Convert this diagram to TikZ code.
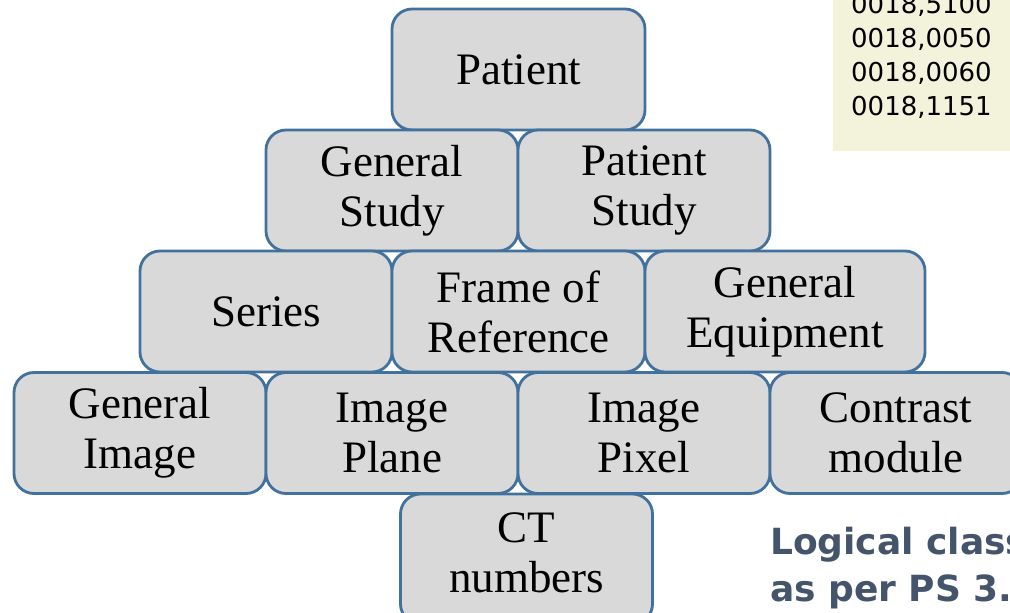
\documentclass[tikz,border=0pt]{standalone}
\usepackage{fontspec}
\setmainfont{Liberation Serif}
\newfontfamily\tagfont{DejaVu Sans}
\newfontfamily\notefont{DejaVu Sans}
\definecolor{boxfill}{HTML}{D9D9D9}
\definecolor{boxline}{HTML}{41719C}
\definecolor{tagfill}{HTML}{F3F3DC}
\definecolor{notecol}{HTML}{44546A}
\begin{document}
\begin{tikzpicture}[x=1pt,y=-1pt,
  mod/.style={draw=boxline, fill=boxfill, line width=2.8pt, rounded corners=20pt,
    align=center, inner sep=0pt, minimum height=121pt,
    font=\fontsize{45}{50}\selectfont, text=black},
  tagtext/.style={anchor=base west, inner sep=0pt, font=\tagfont\fontsize{26}{26}\selectfont, text=black},
  notetext/.style={anchor=base west, inner sep=0pt, font=\notefont\bfseries\fontsize{36}{36}\selectfont, text=notecol}]
\useasboundingbox (0,0) rectangle (1010,613);
\clip (0,0) rectangle (1010,613);
% tag panel
\fill[tagfill] (833,-5) rectangle (1015,151);
\node[tagtext] (t0) at (851,13) {0018,5100};
\node[tagtext] (t1) at (851,47) {0018,0050};
\node[tagtext] (t2) at (851,81) {0018,0060};
\node[tagtext] (t3) at (851,115) {0018,1151};
% modules
\node[mod, minimum width=253pt] (patient) at (518.5,69.5) {Patient};
\node[mod, minimum width=252pt] (gstudy) at (392,190.5) {General\\Study};
\node[mod, minimum width=252pt] (pstudy) at (644,190.5) {Patient\\Study};
\node[mod, minimum width=252pt] (series) at (266,311.5) {Series};
\node[mod, minimum width=253pt] (frame) at (518.5,311.5) {Frame of\\Reference};
\node[mod, minimum width=280pt] (gequip) at (785,311.5) {General\\Equipment};
\node[mod, minimum width=252pt] (gimage) at (140,433) {General\\Image};
\node[mod, minimum width=252pt] (iplane) at (392,433) {Image\\Plane};
\node[mod, minimum width=252pt] (ipixel) at (644,433) {Image\\Pixel};
\node[mod, minimum width=252pt] (contrast) at (896,433) {Contrast\\module};
\node[mod, minimum width=252pt, minimum height=130pt] (ct) at (526.5,559) {};
\node[align=center, inner sep=0pt, font=\fontsize{45}{50}\selectfont, anchor=north] (ctlabel) at (526.5,512) {CT\\numbers};
% note
\node[notetext] (n1) at (770,554) {Logical class};
\node[notetext] (n2) at (770,601) {as per PS 3.3};
\end{tikzpicture}
\end{document}
